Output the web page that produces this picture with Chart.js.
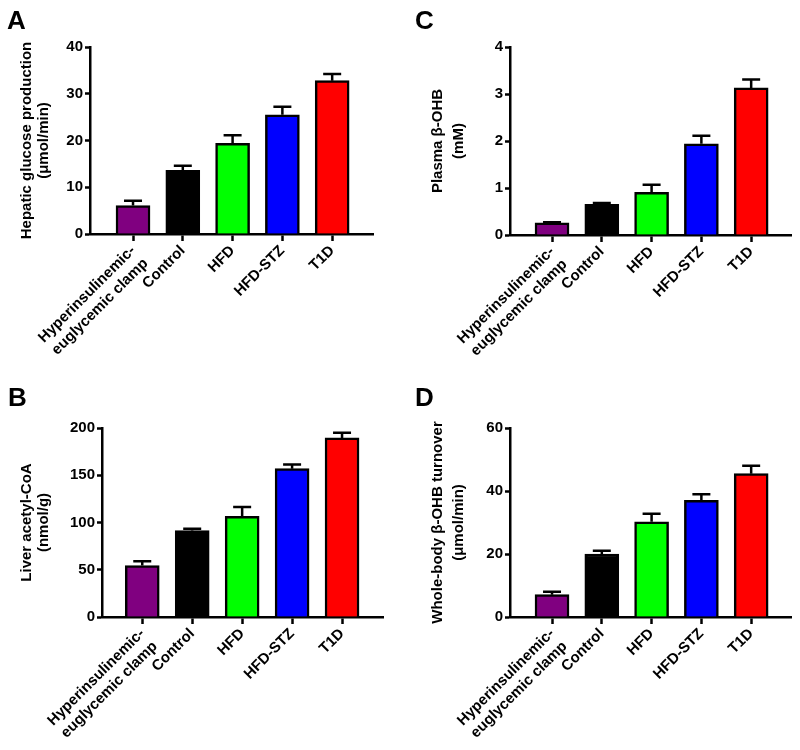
<!DOCTYPE html>
<html>
<head>
<meta charset="utf-8">
<script src="https://cdn.jsdelivr.net/npm/chart.js@4.4.0/dist/chart.umd.min.js"></script>
<style>
  body { margin: 0; background: #fff; }
  #wrap { position: relative; width: 800px; height: 750px; }
  .panel { position: absolute; width: 400px; height: 375px; }
  .letter { position: absolute; font: bold 26px "Liberation Sans", Arial, sans-serif; line-height: 1; color: #000; }
</style>
</head>
<body>
<div id="wrap">
  <div class="panel" style="left:0;top:0"><canvas id="chartA" width="400" height="375"></canvas></div>
  <div class="panel" style="left:400px;top:0"><canvas id="chartC" width="400" height="375"></canvas></div>
  <div class="panel" style="left:0;top:375px"><canvas id="chartB" width="400" height="375"></canvas></div>
  <div class="panel" style="left:400px;top:375px"><canvas id="chartD" width="400" height="375"></canvas></div>
  <div class="letter" style="left:7px;top:7px">A</div>
  <div class="letter" style="left:415px;top:7px">C</div>
  <div class="letter" style="left:8px;top:384px">B</div>
  <div class="letter" style="left:415px;top:384px">D</div>
</div>
<script>
// Groups (x categories) and bar colours
const groups = [['Hyperinsulinemic-', 'euglycemic clamp'], 'Control', 'HFD', 'HFD-STZ', 'T1D'];
const groupColors = ['#800080', '#000000', '#00ff00', '#0000ff', '#ff0000'];

// A: hepatic glucose production (umol/min), mean and SEM
const hgpMean = [6.1, 13.6, 19.4, 25.5, 32.8];
const hgpSem = [1.0, 1.0, 1.7, 1.7, 1.4];

// B: liver acetyl-CoA (nmol/g)
const acoaMean = [54.5, 91.5, 106.5, 157, 189.5];
const acoaSem = [4.5, 1.8, 10, 4.5, 5.5];

// C: plasma beta-OHB (mM)
const bohbMean = [0.26, 0.65, 0.91, 1.94, 3.13];
const bohbSem = [0.01, 0.03, 0.16, 0.17, 0.18];

// D: whole-body beta-OHB turnover (umol/min)
const turnMean = [7.1, 20.0, 30.2, 37.0, 45.5];
const turnSem = [0.9, 1.0, 2.6, 2.0, 2.5];

const FONT = '"Liberation Sans", Arial, sans-serif';

// draws the upper SEM whisker with a cap over every bar
const errorBars = {
    id: 'errorBars',
    afterDatasetsDraw(chart) {
        const ctx = chart.ctx;
        const xs = chart.scales.x;
        const ys = chart.scales.y;
        const means = chart.data.datasets[0].data;
        const sems = chart.data.datasets[0].sem;
        ctx.save();
        ctx.strokeStyle = '#000';
        ctx.lineWidth = 2.5;
        means.forEach(function (p, i) {
            const x = xs.getPixelForValue(p.x);
            const y0 = ys.getPixelForValue(p.y);
            const y1 = ys.getPixelForValue(p.y + sems[i]);
            ctx.beginPath();
            ctx.moveTo(x, y0);
            ctx.lineTo(x, y1);
            ctx.moveTo(x - 9, y1);
            ctx.lineTo(x + 9, y1);
            ctx.stroke();
        });
        ctx.restore();
    }
};

function makePanel(id, means, sems, o) {
    const ctx = document.getElementById(id).getContext('2d');
    return new Chart(ctx, {
        type: 'bar',
        data: {
            datasets: [{
                data: means.map((v, i) => ({ x: i, y: v })),
                sem: sems,
                backgroundColor: groupColors,
                borderColor: '#000',
                borderWidth: 2.5,
                barThickness: 34
            }]
        },
        options: {
            responsive: false,
            animation: false,
            layout: { padding: { top: o.padTop, right: o.padRight, left: 0, bottom: 0 } },
            plugins: { legend: { display: false }, tooltip: { enabled: false } },
            scales: {
                x: {
                    type: 'linear',
                    offset: false,
                    min: o.xMin,
                    max: o.xMax,
                    afterBuildTicks: function (scale) {
                        scale.ticks = groups.map((g, i) => ({ value: i }));
                    },
                    afterFit: function (scale) { scale.height = o.xHeight; },
                    border: { display: true, color: '#000', width: 2.5 },
                    grid: { display: true, offset: false, drawOnChartArea: false, drawTicks: true, tickLength: 7, tickColor: '#000', tickWidth: 2.5 },
                    ticks: {
                        autoSkip: false,
                        minRotation: 45,
                        maxRotation: 45,
                        padding: 1,
                        color: '#000',
                        font: { family: FONT, size: 15, weight: 'bold', lineHeight: 1.2 },
                        callback: function (value) { return groups[value]; }
                    }
                },
                y: {
                    min: 0,
                    max: o.yMax,
                    afterFit: function (scale) { scale.width = o.yWidth; },
                    border: { display: true, color: '#000', width: 2.5 },
                    grid: { display: true, drawOnChartArea: false, drawTicks: true, tickLength: 5, tickColor: '#000', tickWidth: 2.5 },
                    ticks: {
                        stepSize: o.step,
                        padding: 2,
                        color: '#000',
                        font: { family: FONT, size: 15, weight: 'bold' }
                    },
                    title: {
                        display: true,
                        text: o.title,
                        color: '#000',
                        padding: { top: o.titlePad, bottom: 0 },
                        font: { family: FONT, size: 15, weight: 'bold', lineHeight: o.titleLh }
                    }
                }
            }
        },
        plugins: [errorBars]
    });
}

makePanel('chartA', hgpMean, hgpSem, {
    padTop: 47, padRight: 27, yWidth: 90, xHeight: 141, xMin: -0.864, xMax: 4.82,
    yMax: 40, step: 10, title: ['Hepatic glucose production', '(\u03bcmol/min)'], titlePad: 19, titleLh: 1.1
});
makePanel('chartC', bohbMean, bohbSem, {
    padTop: 47, padRight: 9, yWidth: 110, xHeight: 140, xMin: -0.844, xMax: 4.80,
    yMax: 4, step: 1, title: ['Plasma \u03b2-OHB', '(mM)'], titlePad: 28, titleLh: 1.35
});
makePanel('chartB', acoaMean, acoaSem, {
    padTop: 53, padRight: 17, yWidth: 102, xHeight: 133, xMin: -0.806, xMax: 4.82,
    yMax: 200, step: 50, title: ['Liver acetyl-CoA', '(nmol/g)'], titlePad: 19, titleLh: 1.1
});
makePanel('chartD', turnMean, turnSem, {
    padTop: 53, padRight: 9, yWidth: 110, xHeight: 133, xMin: -0.844, xMax: 4.80,
    yMax: 60, step: 20, title: ['Whole-body \u03b2-OHB turnover', '(\u03bcmol/min)'], titlePad: 28, titleLh: 1.35
});
</script>
</body>
</html>
